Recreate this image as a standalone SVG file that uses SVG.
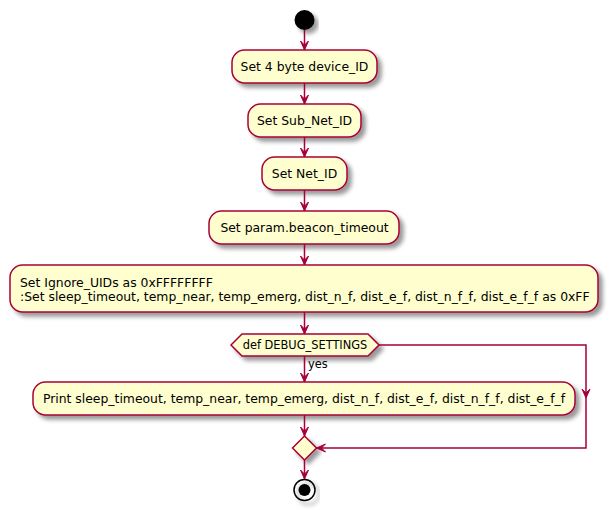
<svg xmlns="http://www.w3.org/2000/svg" width="610" height="510" viewBox="0 0 610 510">
<defs>
<filter id="sh" x="-10%" y="-30%" width="130%" height="180%">
<feGaussianBlur in="SourceAlpha" stdDeviation="2" result="b"/>
<feColorMatrix in="b" type="matrix" values="0 0 0 0 0  0 0 0 0 0  0 0 0 0 0  0 0 0 0.4 0" result="c"/>
<feOffset in="c" dx="4" dy="4" result="o"/>
<feMerge><feMergeNode in="o"/><feMergeNode in="SourceGraphic"/></feMerge>
</filter>
</defs>
<style>
.box{fill:#FEFECE;stroke:#A80036;stroke-width:1.5;filter:url(#sh)}
.t{font-family:"DejaVu Sans",sans-serif;font-size:12.4px;fill:#000}
.s{font-family:"DejaVu Sans",sans-serif;font-size:11.4px;fill:#000}
.ln{fill:none;stroke:#A80036;stroke-width:1.5}
.ah{fill:#A80036;stroke:#A80036;stroke-width:1}
</style>
<rect width="610" height="510" fill="#FFFFFF"/>
<g id="start"><circle cx="304.5" cy="20" r="10" fill="#000" style="filter:url(#sh)"/></g>
<g id="n1"><rect class="box" x="232" y="50" width="145" height="33" rx="12.5"/><text class="t" x="304.5" y="71" text-anchor="middle">Set 4 byte device_ID</text></g>
<g id="n2"><rect class="box" x="248" y="104" width="113" height="33" rx="12.5"/><text class="t" x="304.5" y="125" text-anchor="middle">Set Sub_Net_ID</text></g>
<g id="n3"><rect class="box" x="262" y="157" width="85" height="33" rx="12.5"/><text class="t" x="304.5" y="178" text-anchor="middle">Set Net_ID</text></g>
<g id="n4"><rect class="box" x="209" y="211" width="190" height="33" rx="12.5"/><text class="t" x="304.5" y="232" text-anchor="middle">Set param.beacon_timeout</text></g>
<g id="n5"><rect class="box" x="10" y="265" width="588" height="47" rx="12.5"/><text class="t" x="20" y="286.5">Set Ignore_UIDs as 0xFFFFFFFF</text><text class="t" x="20" y="300.5">:Set sleep_timeout, temp_near, temp_emerg, dist_n_f, dist_e_f, dist_n_f_f, dist_e_f_f as 0xFF</text></g>
<g id="if"><polygon class="box" points="231,345 242,334 368,334 379,345 368,356 242,356"/><text class="s" x="305" y="349" text-anchor="middle">def DEBUG_SETTINGS</text></g>
<g id="n6"><rect class="box" x="33" y="382" width="542" height="33" rx="12.5"/><text class="t" x="304" y="403" text-anchor="middle">Print sleep_timeout, temp_near, temp_emerg, dist_n_f, dist_e_f, dist_n_f_f, dist_e_f_f</text></g>
<g id="merge"><polygon class="box" points="304.5,436 316.5,448 304.5,460 292.5,448"/></g>
<g id="end"><circle cx="304.5" cy="490" r="10.5" fill="none" stroke="#000" stroke-width="1.5" style="filter:url(#sh)"/><circle cx="304.5" cy="490" r="6" fill="#000"/></g>
<g id="connectors">
<line class="ln" x1="304.5" y1="30" x2="304.5" y2="50"/><polygon class="ah" points="300.5,41 304.5,50 308.5,41 304.5,45"/>
<line class="ln" x1="304.5" y1="83" x2="304.5" y2="104"/><polygon class="ah" points="300.5,95 304.5,104 308.5,95 304.5,99"/>
<line class="ln" x1="304.5" y1="137" x2="304.5" y2="157"/><polygon class="ah" points="300.5,148 304.5,157 308.5,148 304.5,152"/>
<line class="ln" x1="304.5" y1="190" x2="304.5" y2="211"/><polygon class="ah" points="300.5,202 304.5,211 308.5,202 304.5,206"/>
<line class="ln" x1="304.5" y1="244" x2="304.5" y2="265"/><polygon class="ah" points="300.5,256 304.5,265 308.5,256 304.5,260"/>
<line class="ln" x1="304.5" y1="312" x2="304.5" y2="334"/><polygon class="ah" points="300.5,325 304.5,334 308.5,325 304.5,329"/>
<line class="ln" x1="304.5" y1="356" x2="304.5" y2="382"/><polygon class="ah" points="300.5,373 304.5,382 308.5,373 304.5,377"/>
<text class="s" x="308" y="368">yes</text>
<line class="ln" x1="304.5" y1="415" x2="304.5" y2="436"/><polygon class="ah" points="300.5,427 304.5,436 308.5,427 304.5,431"/>
<polyline class="ln" points="379,345 586,345 586,448 316.5,448"/>
<polygon class="ah" points="582,389 586,398 590,389 586,393"/>
<polygon class="ah" points="325.5,444 316.5,448 325.5,452 321.5,448"/>
<line class="ln" x1="304.5" y1="460" x2="304.5" y2="479"/><polygon class="ah" points="300.5,470 304.5,479 308.5,470 304.5,474"/>
</g>
</svg>
